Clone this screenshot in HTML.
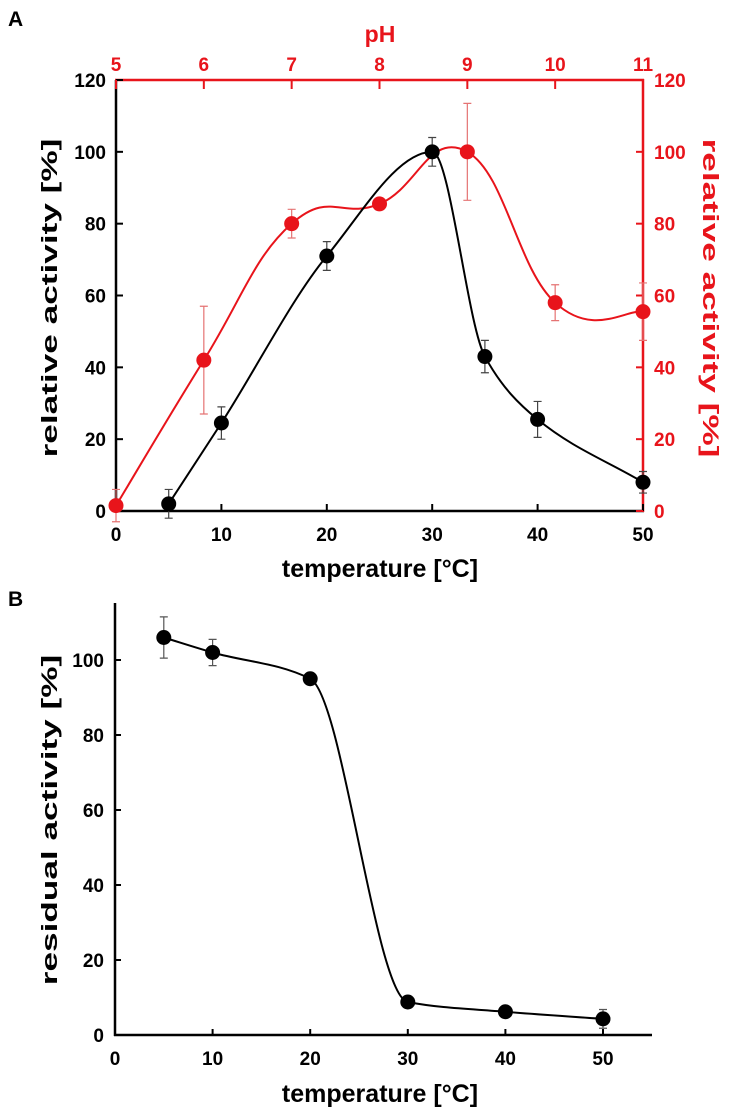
<!DOCTYPE html>
<html><head><meta charset="utf-8">
<style>
html,body{margin:0;padding:0;background:#fff;}
svg{display:block;font-family:"Liberation Sans",Arial,sans-serif;font-weight:bold;}
</style></head>
<body>
<svg id="chart" width="739" height="1120" viewBox="0 0 739 1120" xmlns="http://www.w3.org/2000/svg">
<g id="gA"></g>
<g id="gB"></g>
</svg>
<script>
// Panel A: temperature series
const tempA = [5, 10, 20, 30, 35, 40, 50];
const actA = [2, 24.5, 71, 100, 43, 25.5, 8];
const errA = [4, 4.5, 4, 4, 4.5, 5, 3];
// Panel A: pH series
const phA = [5, 6, 7, 8, 9, 10, 11];
const phAct = [1.5, 42, 80, 85.5, 100, 58, 55.5];
const phErr = [4.5, 15, 4, 1, 13.5, 5, 8];
const xTicksA = [0, 10, 20, 30, 40, 50];
const yTicksA = [0, 20, 40, 60, 80, 100, 120];
const phTicks = [5, 6, 7, 8, 9, 10, 11];
// Panel B
const tempB = [5, 10, 20, 30, 40, 50];
const resB = [106, 102, 95, 8.8, 6.2, 4.3];
const errB = [5.5, 3.5, 0.5, 0.5, 0.5, 2.5];
const xTicksB = [0, 10, 20, 30, 40, 50];
const yTicksB = [0, 20, 40, 60, 80, 100];

const NS = "http://www.w3.org/2000/svg";
function mk(parent, tag, attrs, text) {
  const e = document.createElementNS(NS, tag);
  for (const k in attrs) e.setAttribute(k, attrs[k]);
  if (text !== undefined) e.textContent = text;
  parent.appendChild(e);
  return e;
}
function spline(pts, t) {
  let d = "M" + pts[0][0] + "," + pts[0][1];
  for (let i = 0; i < pts.length - 1; i++) {
    const p0 = pts[i - 1] || pts[i], p1 = pts[i], p2 = pts[i + 1], p3 = pts[i + 2] || pts[i + 1];
    const c1x = p1[0] + (p2[0] - p0[0]) * t / 3, c1y = p1[1] + (p2[1] - p0[1]) * t / 3;
    const c2x = p2[0] - (p3[0] - p1[0]) * t / 3, c2y = p2[1] - (p3[1] - p1[1]) * t / 3;
    d += " C" + c1x + "," + c1y + " " + c2x + "," + c2y + " " + p2[0] + "," + p2[1];
  }
  return d;
}
function monotone(pts) {
  const n = pts.length, dx = [], s = [], m = [];
  for (let i = 0; i < n - 1; i++) { dx[i] = pts[i+1][0] - pts[i][0]; s[i] = (pts[i+1][1] - pts[i][1]) / dx[i]; }
  m[0] = s[0]; m[n-1] = s[n-2];
  for (let i = 1; i < n - 1; i++) {
    if (s[i-1] * s[i] <= 0) m[i] = 0;
    else { const w1 = 2*dx[i] + dx[i-1], w2 = dx[i] + 2*dx[i-1]; m[i] = (w1 + w2) / (w1 / s[i-1] + w2 / s[i]); }
  }
  let d = "M" + pts[0][0] + "," + pts[0][1];
  for (let i = 0; i < n - 1; i++) {
    const h = dx[i] / 3;
    d += " C" + (pts[i][0] + h) + "," + (pts[i][1] + m[i]*h) + " " + (pts[i+1][0] - h) + "," + (pts[i+1][1] - m[i+1]*h) + " " + pts[i+1][0] + "," + pts[i+1][1];
  }
  return d;
}

// ---------- Panel A ----------
const gA = document.getElementById("gA");
const xA = v => 116 + (v / 50) * (643 - 116);
const yA = v => 511 - (v / 120) * (511 - 80);
const xPh = p => xA((p - 5) / 6 * 50);

let t = mk(gA, "text", {x: 8, y: 26, "font-size": 21}, "A");



let ax = mk(gA, "line", {x1: 116, y1: 80, x2: 116, y2: 512, stroke: "#000", "stroke-width": 2.5});


ax = mk(gA, "line", {x1: 115, y1: 511, x2: 644, y2: 511, stroke: "#000", "stroke-width": 2.5});


ax = mk(gA, "line", {x1: 115, y1: 80, x2: 644, y2: 80, stroke: "#e8141b", "stroke-width": 2.5});


ax = mk(gA, "line", {x1: 643, y1: 79, x2: 643, y2: 512, stroke: "#e8141b", "stroke-width": 2.5});



xTicksA.forEach(v => {
  const l = mk(gA, "line", {x1: xA(v), y1: 511, x2: xA(v), y2: 504, stroke: "#000", "stroke-width": 2});
  
  
  const tx = mk(gA, "text", {x: xA(v), y: 541, "font-size": 19, "text-anchor": "middle"}, v);
  
  
});
yTicksA.forEach(v => {
  const l = mk(gA, "line", {x1: 116, y1: yA(v), x2: 123, y2: yA(v), stroke: "#000", "stroke-width": 2});
  
  
  const tx = mk(gA, "text", {x: 106, y: yA(v) + 7, "font-size": 19, "text-anchor": "end"}, v);
  
  
  const l2 = mk(gA, "line", {x1: 643, y1: yA(v), x2: 636, y2: yA(v), stroke: "#e8141b", "stroke-width": 2});
  
  
  const tx2 = mk(gA, "text", {x: 654, y: yA(v) + 7, "font-size": 19, fill: "#e8141b"}, v);
  
  
});
phTicks.forEach(p => {
  const l = mk(gA, "line", {x1: xPh(p), y1: 80, x2: xPh(p), y2: 89, stroke: "#e8141b", "stroke-width": 2});
  
  
  const tx = mk(gA, "text", {x: xPh(p), y: 71, "font-size": 19, fill: "#e8141b", "text-anchor": "middle"}, p);
  
  
});
t = mk(gA, "text", {x: 380, y: 42, "font-size": 23, fill: "#e8141b", "text-anchor": "middle"}, "pH");


t = mk(gA, "text", {x: 380, y: 577, "font-size": 25, "text-anchor": "middle"}, "temperature [°C]");


t = mk(gA, "text", {x: 0, y: 0, "font-size": 22, "text-anchor": "middle", transform: "translate(57,298) rotate(-90) scale(1.6,1)"}, "relative activity [%]");


t = mk(gA, "text", {x: 0, y: 0, "font-size": 22, fill: "#e8141b", "text-anchor": "middle", transform: "translate(703,298) rotate(90) scale(1.6,1)"}, "relative activity [%]");



const redPts = phA.map((p, i) => [xPh(p), yA(phAct[i])]);
let path = mk(gA, "path", {d: spline(redPts, 0.65), fill: "none", stroke: "#e8141b", "stroke-width": 2});


phA.forEach((p, i) => {
  const x = xPh(p);
  const e = mk(gA, "path", {d: `M${x},${yA(phAct[i]-phErr[i])}V${yA(phAct[i]+phErr[i])}M${x-4},${yA(phAct[i]-phErr[i])}h8M${x-4},${yA(phAct[i]+phErr[i])}h8`, stroke: "#e57373", "stroke-width": 1.2, fill: "none"});
  
  
  const c = mk(gA, "circle", {cx: x, cy: yA(phAct[i]), r: 7.5, fill: "#e8141b"});
  
  
});
const blkPts = tempA.map((v, i) => [xA(v), yA(actA[i])]);
path = mk(gA, "path", {d: monotone(blkPts), fill: "none", stroke: "#000", "stroke-width": 2});


tempA.forEach((v, i) => {
  const x = xA(v);
  const e = mk(gA, "path", {d: `M${x},${yA(actA[i]-errA[i])}V${yA(actA[i]+errA[i])}M${x-4},${yA(actA[i]-errA[i])}h8M${x-4},${yA(actA[i]+errA[i])}h8`, stroke: "#444", "stroke-width": 1.2, fill: "none"});
  
  
  const c = mk(gA, "circle", {cx: x, cy: yA(actA[i]), r: 7.5, fill: "#000"});
  
  
});

// ---------- Panel B ----------
const gB = document.getElementById("gB");
const xB = v => 115 + (v / 50) * (603 - 115);
const yB = v => 1035 - (v / 20) * 75;

t = mk(gB, "text", {x: 8, y: 606, "font-size": 21}, "B");


ax = mk(gB, "line", {x1: 115, y1: 603, x2: 115, y2: 1036, stroke: "#000", "stroke-width": 2.5});


ax = mk(gB, "line", {x1: 114, y1: 1035, x2: 652, y2: 1035, stroke: "#000", "stroke-width": 2.5});


xTicksB.forEach(v => {
  const l = mk(gB, "line", {x1: xB(v), y1: 1035, x2: xB(v), y2: 1029, stroke: "#000", "stroke-width": 2});
  
  
  const tx = mk(gB, "text", {x: xB(v), y: 1065, "font-size": 19, "text-anchor": "middle"}, v);
  
  
});
yTicksB.forEach(v => {
  const l = mk(gB, "line", {x1: 115, y1: yB(v), x2: 121, y2: yB(v), stroke: "#000", "stroke-width": 2});
  
  
  const tx = mk(gB, "text", {x: 104, y: yB(v) + 7, "font-size": 19, "text-anchor": "end"}, v);
  
  
});
t = mk(gB, "text", {x: 380, y: 1102, "font-size": 25, "text-anchor": "middle"}, "temperature [°C]");


t = mk(gB, "text", {x: 0, y: 0, "font-size": 22, "text-anchor": "middle", transform: "translate(57,820) rotate(-90) scale(1.6,1)"}, "residual activity [%]");


const bPts = tempB.map((v, i) => [xB(v), yB(resB[i])]);
path = mk(gB, "path", {d: monotone(bPts), fill: "none", stroke: "#000", "stroke-width": 2});


tempB.forEach((v, i) => {
  const x = xB(v);
  const e = mk(gB, "path", {d: `M${x},${yB(resB[i]-errB[i])}V${yB(resB[i]+errB[i])}M${x-4},${yB(resB[i]-errB[i])}h8M${x-4},${yB(resB[i]+errB[i])}h8`, stroke: "#555", "stroke-width": 1.2, fill: "none"});
  
  
  const c = mk(gB, "circle", {cx: x, cy: yB(resB[i]), r: 7.5, fill: "#000"});
  
  
});
</script>
</body></html>
